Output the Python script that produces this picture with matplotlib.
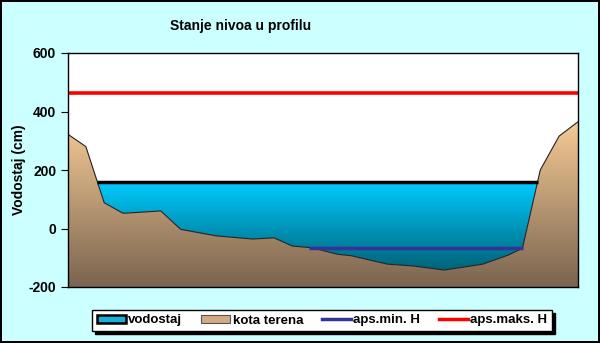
import numpy as np
import matplotlib
matplotlib.use("Agg")
import matplotlib.pyplot as plt
from matplotlib.colors import LinearSegmentedColormap
from matplotlib.patches import Patch
from matplotlib.lines import Line2D

# cross-section profile (distance in m, terrain level in cm)
distance = [0, 3.5, 7.1, 10.8, 18.2, 22.1, 29.0, 36.2, 40.4, 44.0, 47.9,
            52.8, 55.5, 62.7, 67.6, 73.8, 81.3, 86.3, 89.1, 92.6, 96.3, 100]
terrain = [322, 280, 88, 52, 60, -3, -25, -36, -32, -60, -66,
           -88, -93, -122, -128, -142, -122, -91, -68, 200, 316, 365]

water_level = 160     # vodostaj
aps_min = -65         # aps.min. H
aps_max = 462         # aps.maks. H

title = "Stanje nivoa u profilu"
y_label = "Vodostaj (cm)"
y_ticks = [-200, 0, 200, 400, 600]
legend_labels = ["vodostaj", "kota terena", "aps.min. H", "aps.maks. H"]


def wet_range(x, y, level):
    # x range where the terrain is below a level (single region)
    x = np.asarray(x, float)
    y = np.asarray(y, float)
    below = np.where(y < level)[0]
    i0, i1 = below[0], below[-1]
    xl = np.interp(level, [y[i0], y[i0 - 1]], [x[i0], x[i0 - 1]])
    xr = np.interp(level, [y[i1], y[i1 + 1]], [x[i1], x[i1 + 1]])
    return xl, xr


def gradient_fill(ax, poly, top, bottom, c_top, c_bottom):
    cmap = LinearSegmentedColormap.from_list("g", [c_bottom, c_top])
    grad = np.linspace(0, 1, 256).reshape(-1, 1)
    x0, x1 = ax.get_xlim()
    im = ax.imshow(grad, cmap=cmap, origin="lower", aspect="auto",
                   extent=[x0, x1, bottom, top], zorder=poly.get_zorder())
    im.set_clip_path(poly.get_paths()[0], ax.transData)
    poly.set_facecolor("none")


plt.rcParams["font.family"] = ["Liberation Sans", "DejaVu Sans"]
plt.rcParams["font.weight"] = "bold"
plt.rcParams["axes.unicode_minus"] = False

fig = plt.figure(figsize=(6, 3.43), dpi=100, facecolor="#CCFFFF",
                 edgecolor="black", linewidth=1.5)
ax = fig.add_axes([68 / 600, 56 / 343, 510 / 600, 234 / 343])
ax.set_xlim(0, 100)
ax.set_ylim(-200, 600)

# terrain
terr = ax.fill_between(distance, terrain, -200, zorder=2, edgecolor="none")
gradient_fill(ax, terr, max(terrain), -200, "#F6CB95", "#7A6450")
ax.plot(distance, terrain, color="#222222", lw=0.8, zorder=3)

# water
d = np.asarray(distance, float)
t = np.asarray(terrain, float)
wat = ax.fill_between(d, t, water_level, where=t < water_level,
                      interpolate=True, zorder=1.5, edgecolor="none")
gradient_fill(ax, wat, water_level, min(terrain), "#00CCFF", "#00637A")
xl, xr = wet_range(distance, terrain, water_level)
ax.plot([xl, xr], [water_level, water_level], color="black", lw=2.5,
        zorder=4, solid_capstyle="butt")

xl, xr = wet_range(distance, terrain, aps_min)
ax.plot([xl, xr], [aps_min, aps_min], color="#333399", lw=2.5,
        zorder=4, solid_capstyle="butt")
ax.axhline(aps_max, color="#FF0000", lw=2.6, zorder=4)

ax.set_facecolor("white")
ax.set_yticks(y_ticks)
ax.set_xticks([])
ax.tick_params(axis="y", direction="out", length=5, labelsize=10)
ax.set_ylabel(y_label, fontsize=10, fontweight="bold", labelpad=1.5)
for s in ax.spines.values():
    s.set_linewidth(1)
    s.set_zorder(6)

fig.text(241 / 600, 1 - 26 / 343, title, ha="center", va="center",
         fontsize=10, fontweight="bold")

handles = [
    Patch(facecolor="#19AEDC", edgecolor="black", linewidth=1.8),
    Patch(facecolor="#D2AA84", edgecolor="#555555", linewidth=0.8),
    Line2D([], [], color="#333399", lw=2.5),
    Line2D([], [], color="#FF0000", lw=2.5),
]
leg = fig.legend(handles, legend_labels, loc="center", ncol=4,
                 bbox_to_anchor=(322 / 600, 1 - 320.5 / 343),
                 frameon=True, fancybox=False, shadow={"color": "black", "alpha": 1},
                 edgecolor="black", fontsize=9.5, handlelength=2.2,
                 handleheight=0.6, handletextpad=0.2, columnspacing=1.4,
                 borderpad=0.35, borderaxespad=0)
leg.get_frame().set_linewidth(1)

fig.savefig("out.png", dpi=100, facecolor=fig.get_facecolor(),
            edgecolor=fig.get_edgecolor())
